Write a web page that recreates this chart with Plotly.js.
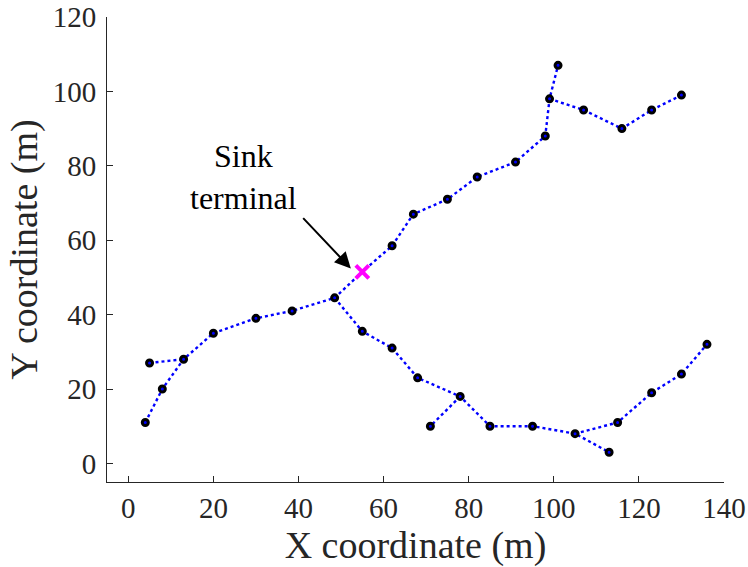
<!DOCTYPE html>
<html>
<head>
<meta charset="utf-8">
<script src="https://cdn.plot.ly/plotly-3.0.1.min.js"></script>
<style>html,body{margin:0;padding:0;background:#fff;}#chart{width:748px;height:567px;}</style>
</head>
<body>
<div id="chart"></div>
<script>
// Network edges (polylines separated by null)
const edgeX = [4, 8, 13, 20, 30, 38.5, 48.5, 55, 62, 67, 75, 82, 91, 98, 99, 101, null,
               5, 13, null,
               48.5, 55, 62, 68, 78, 85, 95, 105, 113, null,
               78, 71, null,
               105, 115, 123, 130, 136, null,
               99, 107, 116, 123, 130];
const edgeY = [11, 20, 28, 35, 39, 41, 44.5, 51.5, 58.5, 67, 71, 77, 81, 88, 98, 107, null,
               27, 28, null,
               44.5, 35.5, 31, 23, 18, 10, 10, 8, 3, null,
               18, 10, null,
               8, 11, 19, 24, 32, null,
               98, 95, 90, 95, 99];
// Sensor nodes
const nodeX = [4, 8, 13, 5, 20, 30, 38.5, 48.5, 62, 67, 75, 82, 91, 98, 99, 101, 107, 116, 123, 130,
               55, 62, 68, 78, 71, 85, 95, 105, 113, 115, 123, 130, 136];
const nodeY = [11, 20, 28, 27, 35, 39, 41, 44.5, 58.5, 67, 71, 77, 81, 88, 98, 107, 95, 90, 95, 99,
               35.5, 31, 23, 18, 10, 10, 10, 8, 3, 11, 19, 24, 32];
// Sink terminal
const sinkX = [55];
const sinkY = [51.5];
// Annotation
const annText = "Sink<br>terminal";
const arrowTip = [52.3, 52.4];
const arrowTail = [40.4, 66.8];
const textPos = [27, 77];
const xTicks = [0, 20, 40, 60, 80, 100, 120, 140];
const yTicks = [0, 20, 40, 60, 80, 100, 120];

const FONT = "Liberation Serif, Times New Roman, serif";
const AX = "#262626";

const traces = [
  {x: edgeX, y: edgeY, mode: "lines", type: "scatter",
   line: {color: "#0000ff", width: 2.4, dash: "dot"}, hoverinfo: "skip", showlegend: false},
  {x: nodeX, y: nodeY, mode: "markers", type: "scatter",
   marker: {color: "#0000ff", size: 6, line: {color: "#000000", width: 3}}, showlegend: false},
  {x: sinkX, y: sinkY, mode: "markers", type: "scatter",
   marker: {symbol: "x-thin", size: 13, color: "#ff00ff", line: {color: "#ff00ff", width: 4}}, showlegend: false}
];

const layout = {
  width: 748, height: 567,
  margin: {l: 107, r: 24, t: 17, b: 85},
  paper_bgcolor: "#ffffff", plot_bgcolor: "#ffffff",
  showlegend: false,
  font: {family: FONT, color: AX},
  xaxis: {
    range: [-5, 140], tickvals: xTicks, ticktext: xTicks.map(String),
    ticks: "inside", ticklen: 6, tickwidth: 1, tickcolor: AX,
    showline: true, linecolor: AX, linewidth: 1, mirror: false,
    showgrid: false, zeroline: false,
    tickfont: {family: FONT, size: 29, color: AX},
    title: {text: "X coordinate (m)", font: {family: FONT, size: 38, color: AX}, standoff: 10},
    automargin: false
  },
  yaxis: {
    range: [-5, 120], tickvals: yTicks, ticktext: yTicks.map(String),
    ticks: "inside", ticklen: 6, tickwidth: 1, tickcolor: AX,
    showline: true, linecolor: AX, linewidth: 1, mirror: false,
    showgrid: false, zeroline: false,
    ticklabelstandoff: 4,
    tickfont: {family: FONT, size: 29, color: AX},
    title: {text: "Y coordinate (m)", font: {family: FONT, size: 38, color: AX}, standoff: 3},
    automargin: false
  },
  annotations: [
    {x: arrowTip[0], y: arrowTip[1], xref: "x", yref: "y",
     ax: arrowTail[0], ay: arrowTail[1], axref: "x", ayref: "y",
     text: " ", showarrow: true, arrowhead: 2, arrowsize: 1.6, arrowwidth: 2, arrowcolor: "#000000", standoff: 0},
    {x: textPos[0], y: textPos[1], xref: "x", yref: "y", text: annText, showarrow: false,
     font: {family: FONT, size: 32, color: "#000000"}, align: "center"}
  ]
};

Plotly.newPlot("chart", traces, layout, {displayModeBar: false, staticPlot: true});
</script>
</body>
</html>
